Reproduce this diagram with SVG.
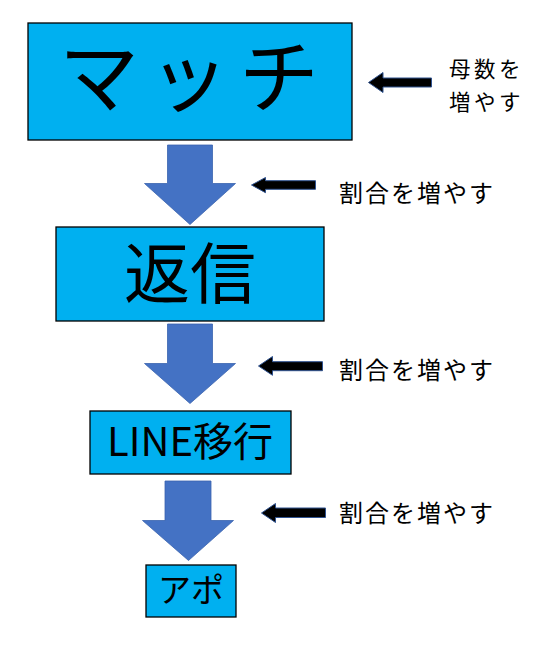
<svg xmlns="http://www.w3.org/2000/svg" width="559" height="655" viewBox="0 0 559 655">
<defs>
<style>
.box{fill:#00B0F0;stroke:#000;stroke-width:1.3}
.down{fill:#4472C4;stroke:#3A63AE;stroke-width:0.8}
.left{fill:#000;stroke:#2F528F;stroke-width:1}
.t{font-family:"Noto Sans CJK JP","Noto Sans",sans-serif;fill:#000}
.lbl{font-size:24px;letter-spacing:2px}
.lbl2{font-size:21.5px;letter-spacing:3.5px}
</style>
</defs>
<rect width="559" height="655" fill="#fff"/>
<g id="connectors">
<polygon class="down" points="167.5,145 212.5,145 212.5,183.5 235.5,183.5 190,224.5 144.5,183.5 167.5,183.5"/>
<polygon class="down" points="167.5,324 212.5,324 212.5,363.5 235.5,363.5 190,403.5 144.5,363.5 167.5,363.5"/>
<polygon class="down" points="165,481 211,481 211,520.5 233.5,520.5 188.5,560.5 142.5,520.5 165,520.5"/>
<polygon class="left" points="368.5,82.5 383,72.5 383,78 431.5,78 431.5,87 383,87 383,92.5"/>
<polygon class="left" points="251.5,185 265.5,177.5 265.5,180.7 315.5,180.7 315.5,189.3 265.5,189.3 265.5,192.7"/>
<polygon class="left" points="258.5,366 272.5,356.5 272.5,361.7 322.5,361.7 322.5,370.7 272.5,370.7 272.5,375.3"/>
<polygon class="left" points="261.5,513 275.5,503.5 275.5,508 325.5,508 325.5,517.5 275.5,517.5 275.5,522.5"/>
</g>
<g id="node-match">
<rect class="box" x="28" y="23" width="324" height="117"/>
<text class="t" x="194" y="106" font-size="80" letter-spacing="10" text-anchor="middle">マッチ</text>
</g>
<g id="node-reply">
<rect class="box" x="56" y="227" width="268" height="94"/>
<text class="t" x="190" y="298" font-size="66" text-anchor="middle">返信</text>
</g>
<g id="node-line">
<rect class="box" x="90" y="411" width="201" height="63"/>
<text class="t" x="190" y="456" font-size="40" text-anchor="middle">LINE移行</text>
</g>
<g id="node-apo">
<rect class="box" x="146" y="565" width="90" height="52"/>
<text class="t" x="191" y="602" font-size="33" text-anchor="middle">アポ</text>
</g>
<g id="labels">
<text class="t lbl2" x="449" y="77">母数を</text>
<text class="t lbl2" x="449" y="109.5">増やす</text>
<text class="t lbl" x="339" y="202">割合を増やす</text>
<text class="t lbl" x="339" y="379">割合を増やす</text>
<text class="t lbl" x="339" y="522">割合を増やす</text>
</g>
</svg>
